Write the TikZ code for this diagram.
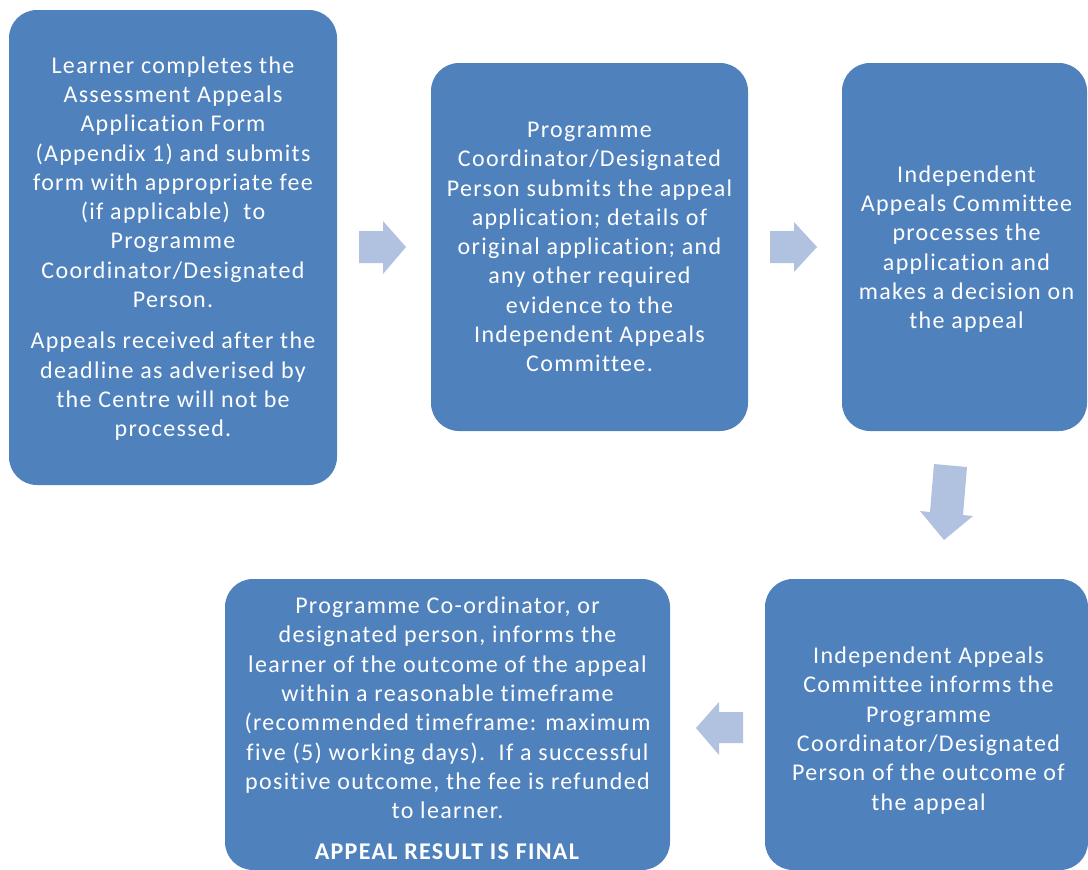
\documentclass[tikz,border=0pt]{standalone}
\usepackage{fontspec}
\setmainfont{Carlito}[LetterSpace=5.5,Ligatures=NoCommon]
\definecolor{boxblue}{HTML}{4F81BD}
\definecolor{arrowblue}{HTML}{B0C2DF}
\begin{document}
\begin{tikzpicture}[x=1pt,y=-1pt,
  box/.style={fill=boxblue, draw=none, rounded corners=28pt, inner sep=0pt},
  txt/.style={text=white, align=center, font=\fontsize{24}{29.3}\selectfont, inner sep=0pt},
  blockarrow/.style={fill=arrowblue, draw=none}]
\useasboundingbox (0,0) rectangle (1088,870);
\node[box, minimum width=328pt, minimum height=475pt] (a) at (173,247.5) {};
\node[txt] (atext) at ([yshift=-1pt]a.center) {Learner completes the\\
Assessment Appeals\\
Application Form\\
(Appendix 1) and submits\\
form with appropriate fee\\
(if applicable)\ \ to\\
Programme\\
Coordinator/Designated\\
Person.\\[12pt]
Appeals received after the\\
deadline as adverised by\\
the Centre will not be\\
processed.};
\node[box, minimum width=317pt, minimum height=368pt] (b) at (589.5,247) {};
\node[txt] (btext) at (b.center) {Programme\\
Coordinator/Designated\\
Person submits the appeal\\
application; details of\\
original application; and\\
any other required\\
evidence to the\\
Independent Appeals\\
Committee.};
\node[box, minimum width=245pt, minimum height=368pt] (c) at (964.5,247) {};
\node[txt] (ctext) at ([xshift=2pt,yshift=-2pt]c.center) {Independent\\
Appeals Committee\\
processes the\\
application and\\
makes a decision on\\
the appeal};
\node[box, minimum width=323pt, minimum height=291pt] (d) at (926.5,724.5) {};
\node[txt] (dtext) at ([xshift=2pt,yshift=-6pt]d.center) {Independent Appeals\\
Committee informs the\\
Programme\\
Coordinator/Designated\\
Person of the outcome of\\
the appeal};
\node[box, minimum width=445pt, minimum height=291pt] (e) at (447.5,724.5) {};
\node[txt] (etext) at ([yshift=-4pt]e.center) {Programme Co-ordinator, or\\
designated person, informs the\\
learner of the outcome of the appeal\\
within a reasonable timeframe\\
(recommended timeframe: maximum\\
five (5) working days).\ \ If a successful\\
positive outcome, the fee is refunded\\
to learner.\\[12pt]
\textbf{APPEAL RESULT IS FINAL}};
% block arrows
\fill[blockarrow] (359,231) -- (383,231) -- (383,221) -- (406,247) -- (383,274) -- (383,263) -- (359,263) -- cycle;
\fill[blockarrow] (770,231) -- (794,231) -- (794,222) -- (817,247) -- (794,272) -- (794,263) -- (770,263) -- cycle;
\fill[blockarrow] (934,464) -- (967,467) -- (963,515) -- (973,516) -- (944,540) -- (920,511) -- (930,512) -- cycle;
\fill[blockarrow] (743,712) -- (719,712) -- (719,702) -- (696,728) -- (719,755) -- (719,743) -- (743,743) -- cycle;
\end{tikzpicture}
\end{document}
